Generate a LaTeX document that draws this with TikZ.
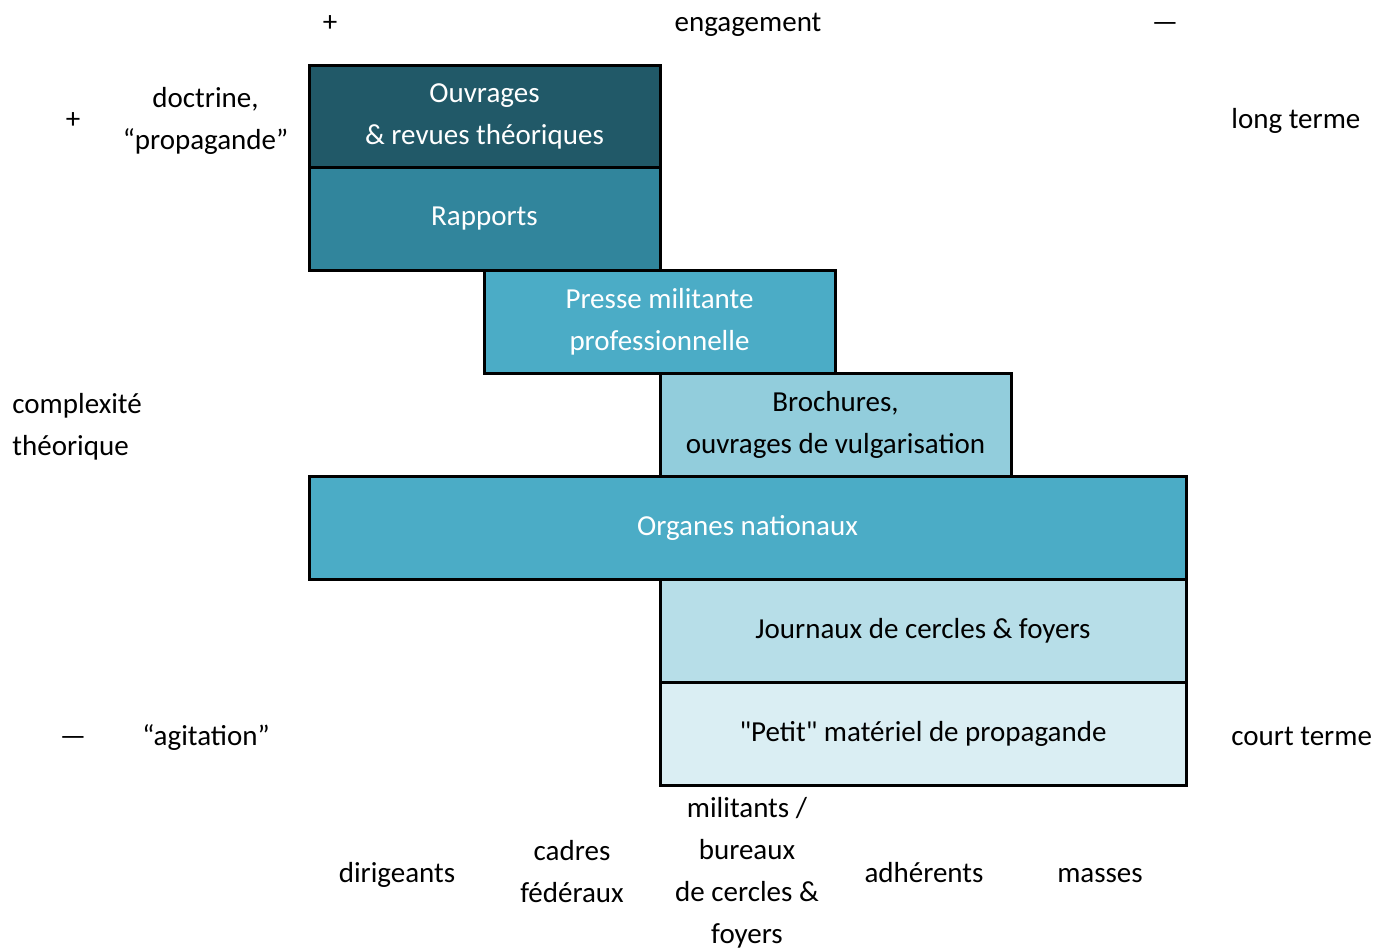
\documentclass[tikz,border=0pt]{standalone}
\usepackage{fontspec}
\setmainfont{Carlito}
\definecolor{aquaD50}{HTML}{215968}
\definecolor{aquaD25}{HTML}{31859C}
\definecolor{aqua}{HTML}{4BACC6}
\definecolor{aquaL40}{HTML}{92CDDC}
\definecolor{aquaL60}{HTML}{B7DEE8}
\definecolor{aquaL80}{HTML}{DAEEF3}
\newcommand\straightq{\XeTeXglyph\XeTeXcharglyph34\relax}
\begin{document}
\begin{tikzpicture}[x=0.5pt,y=-0.5pt,font=\fontsize{14.5}{21}\selectfont,
    level/.style={draw=black,line width=1.5pt,minimum height=51.5pt,inner sep=0pt,align=center},
    lbl/.style={inner sep=0pt,align=center},
    oneline/.style={lbl,text height=10.5pt,text depth=0pt}]
    %border
    \useasboundingbox (0,0) rectangle (1376,948);

    %levels
    \node[level,fill=aquaD50,text=white,minimum width=175.5pt] (ouvrages) at (484.5,116.5) {Ouvrages\\\& revues théoriques};
    \node[level,fill=aquaD25,text=white,minimum width=175.5pt] (rapports) at (484.5,219) {Rapports};
    \node[level,fill=aqua,text=white,minimum width=175.5pt] (presse) at (659.5,321.5) {Presse militante\\professionnelle};
    \node[level,fill=aquaL40,minimum width=175.5pt] (brochures) at (835.5,424.5) {Brochures,\\ouvrages de vulgarisation};
    \node[level,fill=aqua,text=white,minimum width=438.5pt] (organes) at (747.5,527.5) {Organes nationaux};
    \node[level,fill=aquaL60,minimum width=263pt] (journaux) at (923,630.5) {Journaux de cercles \& foyers};
    \node[level,fill=aquaL80,minimum width=263pt] (petit) at (923,733.5) {\straightq Petit\straightq{} matériel de propagande};

    %top axis
    \node[oneline] (engplus) at (330,21) {+};
    \node[oneline] (engagement) at (748,21) {engagement};
    \node[oneline] (engminus) at (1165,21) {—};

    %left axis
    \node[oneline] (cplxplus) at (73,118) {+};
    \node[lbl] (doctrine) at (205.5,121) {doctrine,\\“propagande”};
    \node[lbl,anchor=west,align=left] (complexite) at (12,427) {complexité\\théorique};
    \node[oneline] (cplxminus) at (73,735) {—};
    \node[oneline] (agitation) at (206,735) {“agitation”};

    %right axis
    \node[oneline,anchor=west] (longterme) at (1231,118) {long terme};
    \node[oneline,anchor=west] (courtterme) at (1231,735) {court terme};

    %audiences
    \node[oneline] (dirigeants) at (397,872) {dirigeants};
    \node[lbl] (cadres) at (572,872) {cadres\\fédéraux};
    \node[lbl] (militants) at (747,873) {militants /\\bureaux\\de cercles \&\\foyers};
    \node[oneline] (adherents) at (924,872) {adhérents};
    \node[oneline] (masses) at (1100,872) {masses};
  \end{tikzpicture}
\end{document}
